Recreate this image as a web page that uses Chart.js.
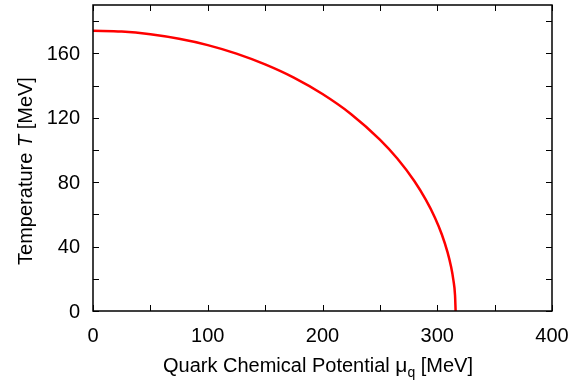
<!DOCTYPE html>
<html>
<head>
<meta charset="utf-8">
<script src="https://cdn.jsdelivr.net/npm/chart.js@4"></script>
<style>
  html, body { margin: 0; padding: 0; background: #fff; }
  #wrap { width: 572px; height: 383px; }
</style>
</head>
<body>
<div id="wrap"><canvas id="phaseChart"></canvas></div>
<script>
// quark chemical potential [MeV] and temperature [MeV] along the curve
const muValues = [0, 25, 50, 75, 100, 125, 150, 175, 200, 225, 250, 265, 280, 290, 298, 304, 309, 312, 314, 315.5, 316];
const tempValues = [174, 173.5, 171.8, 169, 165.1, 159.8, 153.1, 144.9, 134.7, 122.2, 106.4, 94.8, 80.7, 69.1, 57.9, 47.5, 36.4, 27.6, 19.5, 9.8, 0];

const xTickLabels = [0, 100, 200, 300, 400];
const yTickLabels = [0, 40, 80, 120, 160];
const xMinorStep = 50;
const yMinorStep = 20;
const xMax = 400;
const yMax = 190;

const FONT = '"Liberation Sans", Arial, sans-serif';

const framePlugin = {
    id: 'frame',
    afterDraw(chart) {
        const { ctx, chartArea: a, scales } = chart;
        const xs = scales.x, ys = scales.y;
        ctx.save();

        // inward ticks on all four sides
        ctx.strokeStyle = '#000';
        ctx.lineWidth = 1;
        ctx.beginPath();
        for (let v = 0; v <= xMax; v += xMinorStep) {
            const px = Math.round(xs.getPixelForValue(v)) + 0.5;
            ctx.moveTo(px, a.bottom); ctx.lineTo(px, a.bottom - 6);
            ctx.moveTo(px, a.top); ctx.lineTo(px, a.top + 6);
        }
        for (let v = 0; v <= yMax; v += yMinorStep) {
            const py = Math.round(ys.getPixelForValue(v)) + 0.5;
            ctx.moveTo(a.left, py); ctx.lineTo(a.left + 6, py);
            ctx.moveTo(a.right, py); ctx.lineTo(a.right - 6, py);
        }
        ctx.stroke();

        ctx.lineWidth = 1.5;
        ctx.strokeRect(a.left, a.top, a.right - a.left, a.bottom - a.top);

        // tick labels
        ctx.fillStyle = '#000';
        ctx.font = '20px ' + FONT;
        ctx.textAlign = 'center';
        ctx.textBaseline = 'alphabetic';
        xTickLabels.forEach(v => {
            ctx.fillText(String(v), xs.getPixelForValue(v), 342);
        });
        ctx.textAlign = 'right';
        ctx.textBaseline = 'middle';
        yTickLabels.forEach(v => {
            ctx.fillText(String(v), 80, ys.getPixelForValue(v) + 1);
        });

        // x title: Quark Chemical Potential μ_q [MeV]
        const parts = [
            { t: 'Quark Chemical Potential ', f: '20px ' + FONT, dy: 0 },
            { t: 'μ', f: '21px ' + FONT, dy: 0 },
            { t: 'q', f: '14px ' + FONT, dy: 5 },
            { t: ' [MeV]', f: '20px ' + FONT, dy: 0 }
        ];
        let total = 0;
        parts.forEach(p => { ctx.font = p.f; p.w = ctx.measureText(p.t).width; total += p.w; });
        let x0 = 318 - total / 2;
        ctx.textAlign = 'left';
        ctx.textBaseline = 'alphabetic';
        parts.forEach(p => {
            ctx.font = p.f;
            ctx.fillText(p.t, x0, 372 + p.dy);
            x0 += p.w;
        });

        // y title: Temperature T [MeV]
        const yParts = [
            { t: 'Temperature ', f: '20px ' + FONT },
            { t: 'T', f: 'italic 20px ' + FONT },
            { t: ' [MeV]', f: '20px ' + FONT }
        ];
        let yTotal = 0;
        yParts.forEach(p => { ctx.font = p.f; p.w = ctx.measureText(p.t).width; yTotal += p.w; });
        ctx.translate(32, 171);
        ctx.rotate(-Math.PI / 2);
        let s = -yTotal / 2;
        yParts.forEach(p => {
            ctx.font = p.f;
            ctx.fillText(p.t, s, 0);
            s += p.w;
        });
        ctx.restore();
    }
};

const points = muValues.map((m, i) => ({ x: m, y: tempValues[i] }));

new Chart(document.getElementById('phaseChart'), {
    type: 'scatter',
    data: {
        datasets: [{
            data: points,
            showLine: true,
            borderColor: '#ff0000',
            borderWidth: 2.5,
            pointRadius: 0,
            fill: false,
            cubicInterpolationMode: 'monotone'
        }]
    },
    options: {
        responsive: true,
        maintainAspectRatio: false,
        animation: false,
        layout: { padding: { top: 5, right: 20, left: 0, bottom: 0 } },
        plugins: { legend: { display: false }, tooltip: { enabled: false } },
        scales: {
            x: {
                type: 'linear',
                min: 0,
                max: xMax,
                grid: { display: false, drawTicks: false },
                border: { display: false },
                ticks: { display: false },
                afterFit(scale) { scale.height = 72; }
            },
            y: {
                type: 'linear',
                min: 0,
                max: yMax,
                grid: { display: false, drawTicks: false },
                border: { display: false },
                ticks: { display: false },
                afterFit(scale) { scale.width = 93; }
            }
        }
    },
    plugins: [framePlugin]
});
</script>
</body>
</html>
